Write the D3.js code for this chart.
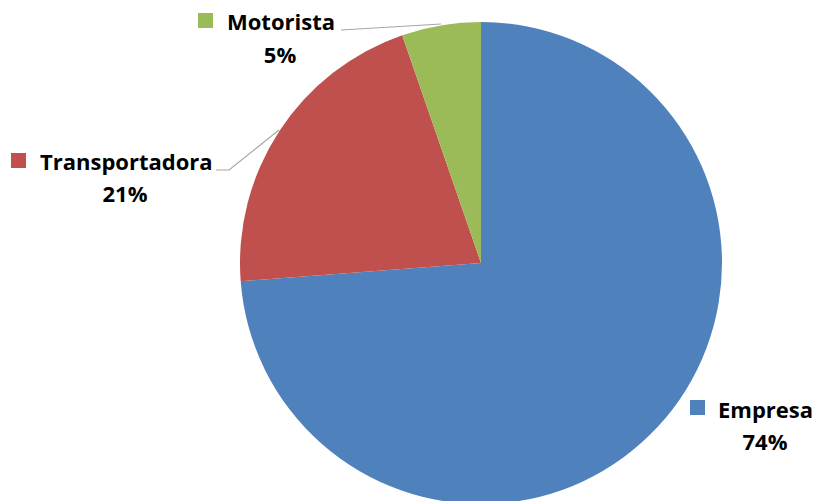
<!DOCTYPE html>
<html><head><meta charset="utf-8">
<script src="https://cdn.jsdelivr.net/npm/d3@7"></script>
<style>html,body{margin:0;padding:0;background:#fff;}svg{display:block;}</style>
</head><body>
<svg id="chart" width="817" height="501"></svg>
<script>
const categories = ["Empresa", "Transportadora", "Motorista"];
const values = [73.8, 20.9, 5.3];
const colors = ["#4F81BD", "#C0504D", "#9BBB59"];

const svg = d3.select("#chart");
const cx = 481, cy = 263, r = 241;
const g = svg.append("g").attr("transform", `translate(${cx},${cy})`);

const pie = d3.pie().sort(null).value(d => d)(values);
const arc = d3.arc().innerRadius(0).outerRadius(r);
g.selectAll("path").data(pie).join("path")
  .attr("d", arc)
  .attr("fill", (d, i) => colors[i]);

const labelPos = [
  {sq:[690,400], tx:718, ty:418, px:765, py:450},
  {sq:[11,153], tx:40, ty:170, px:125, py:202},
  {sq:[198,13], tx:227, ty:30, px:280, py:63}
];
const font = "'Open Sans', Lato, sans-serif";
categories.forEach((c, i) => {
  const p = labelPos[i];
  svg.append("rect").attr("x", p.sq[0]).attr("y", p.sq[1]).attr("width", 15).attr("height", 15).attr("fill", colors[i]);
  svg.append("text").attr("x", p.tx).attr("y", p.ty).text(c)
    .attr("font-family", font).attr("font-weight", "bold").attr("font-size", 22).attr("fill", "#000");
  svg.append("text").attr("x", p.px).attr("y", p.py).attr("text-anchor", "middle").text(Math.round(values[i]) + "%")
    .attr("font-family", font).attr("font-weight", "bold").attr("font-size", 22).attr("fill", "#000");
});

const leader = d3.line();
svg.append("path").attr("d", leader([[341,30],[441,24]])).attr("stroke", "#A6A6A6").attr("stroke-width", 1.2).attr("fill", "none");
svg.append("path").attr("d", leader([[216,170],[229,170],[279,130]])).attr("stroke", "#A6A6A6").attr("stroke-width", 1.2).attr("fill", "none");
</script>
</body></html>
